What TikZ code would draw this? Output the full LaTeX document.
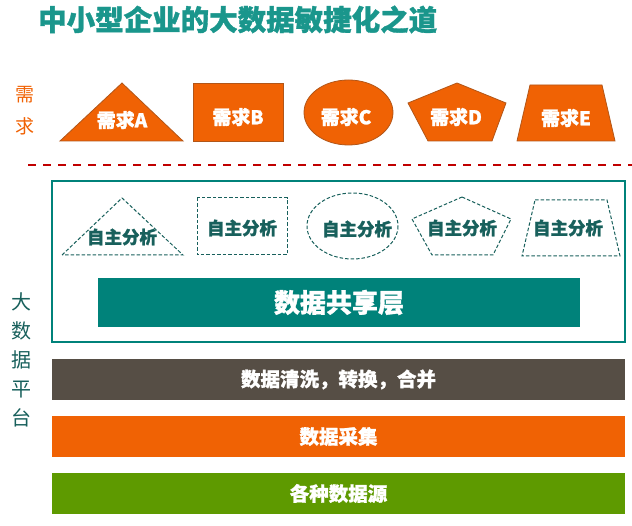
\documentclass[tikz,border=0pt]{standalone}
\usepackage{fontspec}
\setmainfont{Noto Sans CJK SC}[BoldFeatures={FakeBold=1.2}]
\usepackage{tikz}
\definecolor{titleteal}{RGB}{26,150,140}
\definecolor{barteal}{RGB}{0,130,122}
\definecolor{darkteal}{RGB}{24,96,92}
\definecolor{needorange}{RGB}{240,98,4}
\definecolor{edgebrown}{RGB}{178,86,24}
\definecolor{cleangray}{RGB}{86,78,69}
\definecolor{sourcegreen}{RGB}{94,154,0}
\definecolor{linered}{RGB}{192,0,0}
\tikzset{need shape/.style={fill=needorange,draw=edgebrown,line width=0.8pt},
need text/.style={text=white,font=\bfseries\fontsize{19}{19}\selectfont,inner sep=0pt},
self shape/.style={draw=darkteal,line width=1pt,dash pattern=on 3.5pt off 2pt},
self text/.style={text=darkteal,font=\bfseries\fontsize{17.5}{17.5}\selectfont,inner sep=0pt},
layer bar/.style={minimum width=573pt,minimum height=41pt,inner sep=0pt,outer sep=0pt,text=white,font=\bfseries\fontsize{19.5}{19.5}\selectfont},
}
\usetikzlibrary{positioning}

\begin{document}
\begin{tikzpicture}[x=1pt,y=-1pt]
\useasboundingbox (0,0) rectangle (632,526);

%% title
\node[anchor=west,inner sep=0pt,text=titleteal,font=\bfseries\fontsize{28.5}{28.5}\selectfont] (title) at (38,19.5) {中小型企业的大数据敏捷化之道};

%% demand row
\node[text=needorange,align=center,inner sep=0pt,font=\fontsize{19}{32}\selectfont] (needlabel) at (25,111) {需\\求};
\draw[need shape] (60,141) -- (122,83) -- (183,141) -- cycle;
\draw[need shape] (193,83) rectangle (283,141);
\draw[need shape] (348.5,112.5) ellipse [x radius=44.5,y radius=32.5];
\draw[need shape] (457,83) -- (506,103) -- (492,141) -- (428,141) -- (408,103) -- cycle;
\draw[need shape] (530,85) -- (602,85) -- (615,141) -- (517,141) -- cycle;
\node[need text] (needA) at (122,120) {需求A};
\node[need text] (needB) at (238,117) {需求B};
\node[need text] (needC) at (346,117) {需求C};
\node[need text] (needD) at (456,117) {需求D};
\node[need text] (needE) at (566,118) {需求E};

\draw[linered,line width=2pt,dash pattern=on 8pt off 7pt] (28,165) -- (632,165);

%% platform
\node[text=darkteal,align=center,inner sep=0pt,font=\fontsize{20}{29}\selectfont] (platlabel) at (22,360) {大\\数\\据\\平\\台};
\draw[draw=barteal,line width=1.5pt] (52,181) rectangle (625,342);
\draw[self shape] (62,255) -- (122,198) -- (183,255) -- cycle;
\draw[self shape] (197,198) rectangle (287,255);
\draw[self shape] (352.5,226) ellipse [x radius=45.5,y radius=33];
\draw[self shape] (462,197) -- (511,219) -- (493,255) -- (432,255) -- (412,219) -- cycle;
\draw[self shape] (535,200) -- (607,200) -- (620,256) -- (522,256) -- cycle;
\node[self text] (selfA) at (122,237) {自主分析};
\node[self text] (selfB) at (242,228) {自主分析};
\node[self text] (selfC) at (357,229) {自主分析};
\node[self text] (selfD) at (462,228) {自主分析};
\node[self text] (selfE) at (568,228) {自主分析};

\node[layer bar,fill=barteal,minimum width=482pt,minimum height=49pt,font=\bfseries\fontsize{26}{26}\selectfont] (share) at (339,302.5) {数据共享层};

\node[layer bar,fill=cleangray] (clean) at (338.5,379.5) {数据清洗，转换，合并};
\node[layer bar,fill=needorange] (collect) [below = 16pt of clean] {数据采集};
\node[layer bar,fill=sourcegreen] (source) [below = 16pt of collect] {各种数据源};
\end{tikzpicture}
\end{document}
